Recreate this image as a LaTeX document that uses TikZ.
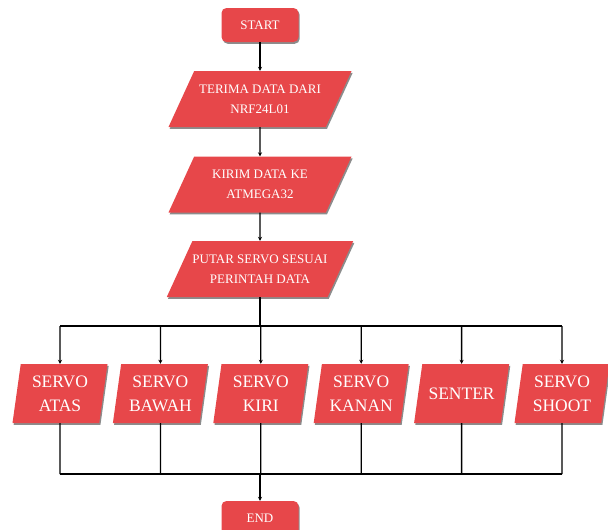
\documentclass[tikz,border=0pt]{standalone}
\usepackage{fontspec}
\setmainfont{Liberation Serif}
\usetikzlibrary{shapes.geometric,shadows,arrows.meta}

\definecolor{boxred}{RGB}{231,71,74}
\tikzset{
  base/.style={fill=boxred, text=white, align=center,
    drop shadow={shadow xshift=1.2pt, shadow yshift=-1.8pt, fill=black!45, opacity=1}},
  startstop/.style={base, rounded corners=5pt, minimum width=77pt, minimum height=34pt,
    font=\fontsize{13}{20}\selectfont},
  io/.style={base, trapezium, trapezium left angle=54, trapezium right angle=126,
    trapezium stretches body=true, inner xsep=0pt, minimum width=183pt, minimum height=56pt,
    font=\fontsize{13}{20}\selectfont},
  servo/.style={base, trapezium, trapezium left angle=79, trapezium right angle=101,
    trapezium stretches body=true, inner xsep=0pt, minimum width=95pt, minimum height=59pt,
    font=\fontsize{17.5}{24}\selectfont},
  line/.style={line width=1.3pt},
  arrow/.style={line, -{Stealth[length=4pt,width=4pt]}},
}

\begin{document}
\begin{tikzpicture}[x=1pt, y=-1pt]
    \useasboundingbox (0,0) rectangle (608,530); % 画布大小
    \node[startstop] (start) at (260,25) {START}; % 开始
    \node[io] (terima) at (260,99) {TERIMA DATA DARI\\NRF24L01}; % 接收数据
    \node[io] (kirim) at (260,184.5) {KIRIM DATA KE\\ATMEGA32}; % 发送数据
    \node[io] (putar) at (260,269) {PUTAR SERVO SESUAI\\PERINTAH DATA}; % 转动舵机
    \node[servo] (atas) at (60,393.5) {SERVO\\ATAS}; % 上
    \node[servo] (bawah) at (160.4,393.5) {SERVO\\BAWAH}; % 下
    \node[servo] (kiri) at (260.8,393.5) {SERVO\\KIRI}; % 左
    \node[servo] (kanan) at (361.2,393.5) {SERVO\\KANAN}; % 右
    \node[servo, trapezium left angle=66, trapezium right angle=114] (senter) at (461.6,393.5) {SENTER}; % 中
    \node[servo] (shoot) at (562,393.5) {SERVO\\SHOOT}; % 射击
    \node[startstop] (end) at (260,518) {END}; % 结束
    \coordinate (split) at (260,326); % 分支线
    \coordinate (join) at (260,474); % 汇合线
    \draw[arrow] (start) -- (terima);
    \draw[arrow] (terima) -- (kirim);
    \draw[arrow] (kirim) -- (putar);
    \draw[line] (putar) -- (split);
    \draw[line] (split -| atas) -- (split -| shoot);
    \draw[arrow] (split -| atas) -- (atas);
    \draw[arrow] (split -| bawah) -- (bawah);
    \draw[arrow] (split -| kiri) -- (kiri);
    \draw[arrow] (split -| kanan) -- (kanan);
    \draw[arrow] (split -| senter) -- (senter);
    \draw[arrow] (split -| shoot) -- (shoot);
    \draw[line] (atas) -- (join -| atas);
    \draw[line] (bawah) -- (join -| bawah);
    \draw[line] (kiri) -- (join -| kiri);
    \draw[line] (kanan) -- (join -| kanan);
    \draw[line] (senter) -- (join -| senter);
    \draw[line] (shoot) -- (join -| shoot);
    \draw[line] (join -| atas) -- (join -| shoot);
    \draw[arrow] (join) -- (end);
\end{tikzpicture}
\end{document}
